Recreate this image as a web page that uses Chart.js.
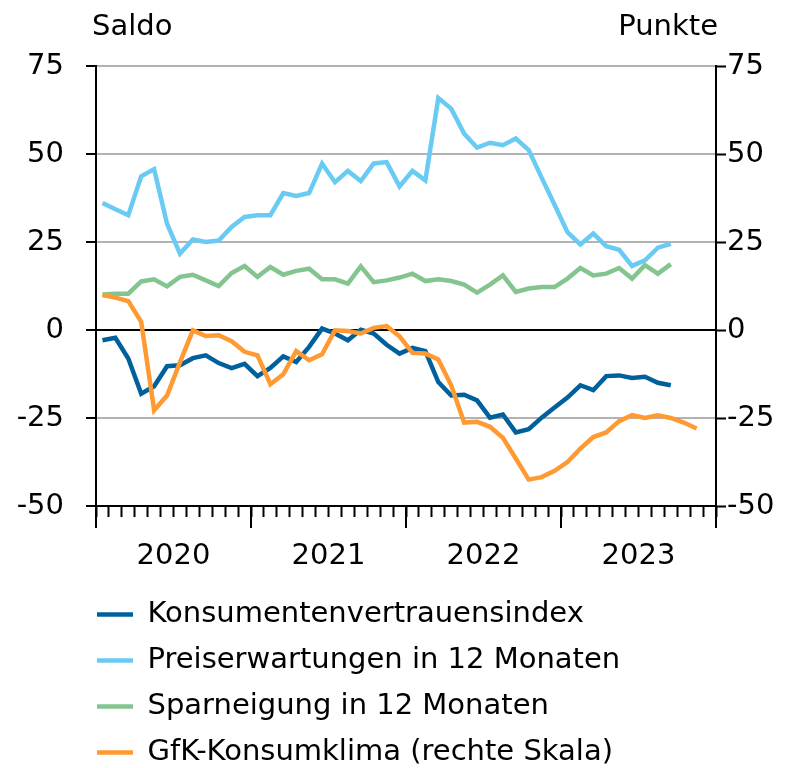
<!DOCTYPE html>
<html><head><meta charset="utf-8">
<script src="https://cdn.jsdelivr.net/npm/chart.js@4.4.1/dist/chart.umd.min.js"></script>
<style>html,body{margin:0;padding:0;background:#fff;overflow:hidden}#wrap{width:800px;height:768px;position:relative}</style>
</head><body><div id="wrap"><canvas id="c"></canvas></div>
<script>
const yearLabels = ['2020', '2021', '2022', '2023'];
const monthsPerYear = 12;
const yTicks = [-50, -25, 0, 25, 50, 75];
const leftTitle = 'Saldo';
const rightTitle = 'Punkte';
const seriesNames = ['Konsumentenvertrauensindex', 'Preiserwartungen in 12 Monaten', 'Sparneigung in 12 Monaten', 'GfK-Konsumklima (rechte Skala)'];
// monthly values starting January 2020
const konsum = [-2.9,-2.2,-8.1,-18.1,-16.0,-10.3,-10.0,-8.0,-7.2,-9.4, -10.8,-9.6,-13.1,-10.8,-7.5,-9.1,-4.8,0.4,-1.0,-2.9, 0.1,-1.0,-4.2,-6.7,-5.1,-6.0,-14.8,-18.6,-18.4,-20.0, -24.9,-24.0,-29.1,-28.2,-24.9,-22.0,-19.2,-15.7,-17.1,-13.1, -12.9,-13.6,-13.3,-15.0,-15.7];
const preis = [36.1,34.3,32.6,43.7,45.7,30.2,21.7,25.7,25.0,25.4, 29.3,32.1,32.6,32.6,38.9,38.1,38.9,47.3,42.0,45.2, 42.3,47.3,47.7,40.8,45.2,42.5,65.9,62.9,55.8,51.8, 53.2,52.5,54.4,51.1,43.3,35.6,27.8,24.3,27.4,23.8, 22.8,18.2,19.8,23.4,24.5];
const spar = [10.1,10.3,10.3,13.8,14.4,12.4,15.1,15.7,14.1,12.5, 16.2,18.2,15.1,17.9,15.7,16.8,17.4,14.4,14.4,13.2, 18.1,13.6,14.1,14.9,16.0,13.9,14.4,13.9,12.9,10.6, 12.9,15.5,10.8,11.8,12.2,12.2,14.6,17.6,15.5,16.0, 17.6,14.6,18.4,16.0,18.7];
const gfk = [9.9,9.2,8.2,2.3,-22.8,-18.6,-9.2,-0.1,-1.7,-1.5, -3.2,-6.2,-7.2,-15.4,-12.6,-6.0,-8.6,-6.9,-0.1,-0.3, -1.0,0.6,1.1,-1.8,-6.5,-6.7,-8.4,-15.7,-26.3,-26.1, -27.5,-30.6,-36.5,-42.5,-41.8,-40.0,-37.5,-33.7,-30.4,-29.1, -25.9,-24.2,-25.0,-24.2,-25.0,-26.3,-28.0];

const totalMonths = yearLabels.length * monthsPerYear;
const toPts = arr => arr.map((v, i) => ({x: i + 0.5, y: v}));
const FONT = '"DejaVu Sans", sans-serif';
Chart.defaults.font.family = FONT;
Chart.defaults.font.size = 29;
Chart.defaults.color = '#000';
const LEGEND_PAD = 17;

const extras = {
  id: 'extras',
  afterLayout(chart) {
    // legend rows start under the left axis line
    if (chart.legend) chart.legend.left = chart.chartArea.left + 1 - LEGEND_PAD;
  },
  afterDraw(chart) {
    const {ctx, chartArea: a, scales: {x}} = chart;
    ctx.save();
    ctx.strokeStyle = '#000'; ctx.lineWidth = 2;
    for (let v = 0; v <= totalMonths; v += monthsPerYear) {
      const px = Math.round(x.getPixelForValue(v));
      ctx.beginPath(); ctx.moveTo(px, a.bottom); ctx.lineTo(px, a.bottom + 22); ctx.stroke();
    }
    ctx.fillStyle = '#000';
    ctx.font = '29px ' + FONT;
    ctx.textBaseline = 'alphabetic';
    ctx.textAlign = 'left'; ctx.fillText(leftTitle, a.left - 4, 35);
    ctx.textAlign = 'right'; ctx.fillText(rightTitle, a.right + 2, 35);
    ctx.restore();
  }
};

const yCommon = {
  type: 'linear', min: -50, max: 75,
  afterBuildTicks: s => { s.ticks = yTicks.map(v => ({value: v})); },
  border: {display: true, color: '#000', width: 2}
};

new Chart(document.getElementById('c'), {
  type: 'line',
  data: {
    datasets: [
      {label: seriesNames[0], data: toPts(konsum), borderColor: '#00609c', backgroundColor: '#00609c', yAxisID: 'y', order: 1},
      {label: seriesNames[1], data: toPts(preis), borderColor: '#69cbf3', backgroundColor: '#69cbf3', yAxisID: 'y', order: 3},
      {label: seriesNames[2], data: toPts(spar), borderColor: '#84c58f', backgroundColor: '#84c58f', yAxisID: 'y', order: 2},
      {label: seriesNames[3], data: toPts(gfk), borderColor: '#fe9a31', backgroundColor: '#fe9a31', yAxisID: 'y2', order: 0}
    ]
  },
  options: {
    responsive: true, maintainAspectRatio: false, animation: false,
    datasets: {line: {borderWidth: 4.5, pointRadius: 0, tension: 0, fill: false, borderJoinStyle: 'miter'}},
    layout: {padding: {top: 66, left: 0, right: 0, bottom: -9}},
    plugins: {
      tooltip: {enabled: false},
      legend: {
        position: 'bottom', align: 'start',
        labels: {usePointStyle: true, pointStyle: 'line', pointStyleWidth: 36, padding: LEGEND_PAD,
          font: {size: 29}, color: '#000', sort: (a, b) => a.datasetIndex - b.datasetIndex}
      }
    },
    scales: {
      x: {
        type: 'linear', min: 0, max: totalMonths, offset: false,
        afterFit: s => { s.height = 77; },
        ticks: {stepSize: 1, autoSkip: false, maxRotation: 0, minRotation: 0, padding: 22,
          callback: v => (v % monthsPerYear === 6 ? yearLabels[(v - 6) / monthsPerYear] : '')},
        grid: {drawOnChartArea: false, drawTicks: true, tickLength: 11, tickColor: '#000', tickWidth: 2},
        border: {display: true, color: '#000', width: 2}
      },
      y: Object.assign({}, yCommon, {
        position: 'left',
        afterFit: s => { s.width = 96; },
        ticks: {padding: 22, callback: v => String(v)},
        grid: {color: c => c.tick.value === 0 ? '#000' : (c.tick.value === -50 ? 'rgba(0,0,0,0)' : '#b3b3b3'),
          lineWidth: 2, tickColor: '#000', tickWidth: 2, tickLength: 10}
      }),
      y2: Object.assign({}, yCommon, {
        position: 'right',
        afterFit: s => { s.width = 84; },
        ticks: {padding: 1, callback: v => String(v)},
        grid: {drawOnChartArea: false, tickColor: '#000', tickWidth: 2, tickLength: 10}
      })
    }
  },
  plugins: [extras]
});
</script></body></html>
